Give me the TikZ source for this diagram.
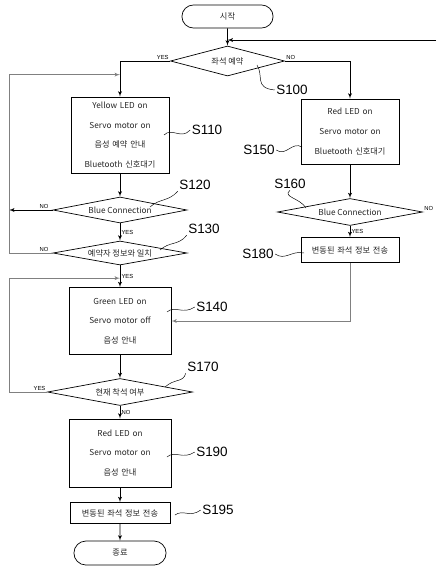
\documentclass[tikz,border=0pt]{standalone}
\usepackage{fontspec}
\setmainfont{Liberation Sans}
\newfontfamily\kr{Noto Sans CJK KR}
\usepackage{tikz}
\usetikzlibrary{shapes,arrows}
\usetikzlibrary{calc}
\tikzstyle{termblock} = [rounded rectangle, draw, text=black!85,
    minimum width=2.97cm, minimum height=0.69cm, font=\kr\fontsize{7}{8}\selectfont]
\tikzstyle{stepblock} = [rectangle, draw, text=black!85,
    text width=2.6cm, text centered, minimum width=2.94cm, font=\kr\fontsize{7}{16.7}\selectfont]
\tikzstyle{decision} = [diamond, draw, aspect=5, inner sep=0pt, text=black!85,
    text centered, font=\kr\fontsize{7}{8}\selectfont]
\tikzstyle{steplabel} = [inner sep=1pt, font=\fontsize{11.5}{12}\selectfont]
\tikzstyle{yesno} = [inner sep=1pt, font=\fontsize{5}{6}\selectfont]
\tikzstyle{line} = [draw, -latex']
\tikzstyle{backline} = [draw, -latex', black!50]
\tikzstyle{squiggle} = [draw, thin]

\begin{document}
\begin{tikzpicture}[x=0.03cm, y=0.03cm, line width=0.6pt]
    \useasboundingbox (0,0) rectangle (436,-566);
    \node [termblock] (start) at (227.5,-16.5) {시작};
    \node [decision, below of=start, node distance=1.335cm] (reserve) [minimum width=3.42cm, minimum height=0.9cm] {좌석 예약};
    % left column
    \node [stepblock] (yellow) at (120,-135) [minimum height=2.28cm] {Yellow LED on\\ Servo motor on\\ 음성 예약 안내\\ Bluetooth 신호대기};
    \node [decision, below of=yellow, node distance=2.25cm] (blue1) [minimum width=4.02cm, minimum height=0.78cm] {Blue Connection};
    \node [decision, below of=blue1, node distance=1.29cm] (match) [minimum width=4.02cm, minimum height=0.72cm] {예약자 정보와 일치};
    \node [stepblock, below of=match, node distance=2.04cm] (green) [minimum width=3.06cm, minimum height=2.01cm] {Green LED on\\ Servo motor off\\ 음성 안내};
    \node [decision, below of=green, node distance=2.13cm] (seated) [minimum width=4.35cm, minimum height=0.81cm] {현재 착석 여부};
    \node [stepblock, below of=seated, node distance=1.83cm] (red2) [minimum width=3.06cm, minimum height=2.04cm] {Red LED on\\ Servo motor on\\ 음성 안내};
    \node [stepblock, below of=red2, node distance=1.8cm] (send2) [minimum width=3cm, minimum height=0.63cm] {변동된 좌석 정보 전송};
    \node [termblock, below of=send2, node distance=1.2cm] (stop) [minimum width=3cm, minimum height=0.72cm] {종료};
    % right column
    \node [stepblock] (red1) at (350,-131.5) [minimum height=1.95cm] {Red LED on\\ Servo motor on\\ Bluetooth 신호대기};
    \node [decision, below of=red1, node distance=2.415cm] (blue2) [minimum width=4.35cm, minimum height=0.81cm] {Blue Connection};
    \node [stepblock, below of=blue2, node distance=1.14cm] (send1) [minimum height=0.75cm] {변동된 좌석 정보 전송};

    % step labels
    \node [steplabel] (s100) at (292,-90) {S100};
    \node [steplabel] (s110) at (207,-130) {S110};
    \node [steplabel] (s120) at (195,-185) {S120};
    \node [steplabel] (s130) at (204,-229) {S130};
    \node [steplabel] (s140) at (212,-307) {S140};
    \node [steplabel] (s150) at (259,-150) {S150};
    \node [steplabel] (s160) at (290,-184) {S160};
    \node [steplabel] (s170) at (203,-367) {S170};
    \node [steplabel] (s180) at (258,-254) {S180};
    \node [steplabel] (s190) at (212,-452) {S190};
    \node [steplabel] (s195) at (218,-510) {S195};

    \coordinate (feedin) at (436,-40);
    \coordinate (rail) at (9,0);
    \coordinate (j1) at ($(yellow.north)+(0,22)$);
    \coordinate (j2) at ($(green.north)+(0,9)$);

    % Draw edges
    \path [line] (start) -- (reserve);
    \path [line] (feedin) -- (reserve.north |- feedin);
    \path [line] (reserve.west) -| node[yesno, above left, pos=0] {YES} (yellow.north);
    \path [line] (reserve.east) -| node[yesno, above right, pos=0] {NO} (red1.north);
    \path [line] (yellow) -- (blue1);
    \path [line] (blue1) -- node[yesno, right] {YES} (match);
    \path [line] (blue1.west) -- node[yesno, above, pos=0.2] {NO} (blue1.west -| rail);
    \path [backline] (match.west) -- node[yesno, above, pos=0.2, black] {NO} (match.west -| rail) |- (j1);
    \path [line] (match) -- node[yesno, right] {YES} (green);
    \path [line] (green) -- (seated);
    \path [backline] (seated.west) -- node[yesno, above, pos=0.2, black] {YES} (seated.west -| rail) |- (j2);
    \path [line] (seated) -- node[yesno, right] {NO} (red2);
    \path [line] (red2) -- (send2);
    \path [line] (send2) -- (stop);
    \path [line] (red1) -- (blue2);
    \path [line] (blue2) -- node[yesno, right] {YES} (send1);
    \node [yesno, above right] (no160) at (blue2.east) {NO};
    \path [backline] (send1.south) |- (green.east);

    % squiggles to the step labels
    \path [squiggle] (257,-65) .. controls (264,-76) and (254,-88) .. (s100.west);
    \path [squiggle] (164,-135) .. controls (172,-127) and (181,-140) .. (s110.west);
    \path [squiggle] (s150.east) .. controls (286,-157) and (292,-141) .. (302,-147);
    \path [squiggle] (150,-207) .. controls (160,-198) and (168,-202) .. (s120.south west);
    \path [squiggle] (160,-250) .. controls (170,-241) and (178,-246) .. (s130.south west);
    \path [squiggle] (s160.south) .. controls (282,-197) and (300,-198) .. (306,-208);
    \path [squiggle] (s180.east) .. controls (285,-261) and (292,-250) .. (304,-253);
    \path [squiggle] (167,-312) .. controls (175,-305) and (183,-315) .. (s140.west);
    \path [squiggle] (165,-387) .. controls (175,-378) and (183,-383) .. (s170.south west);
    \path [squiggle] (167,-457) .. controls (175,-450) and (183,-460) .. (s190.west);
    \path [squiggle] (175,-515) .. controls (183,-509) and (190,-518) .. (s195.west);
\end{tikzpicture}
\end{document}
